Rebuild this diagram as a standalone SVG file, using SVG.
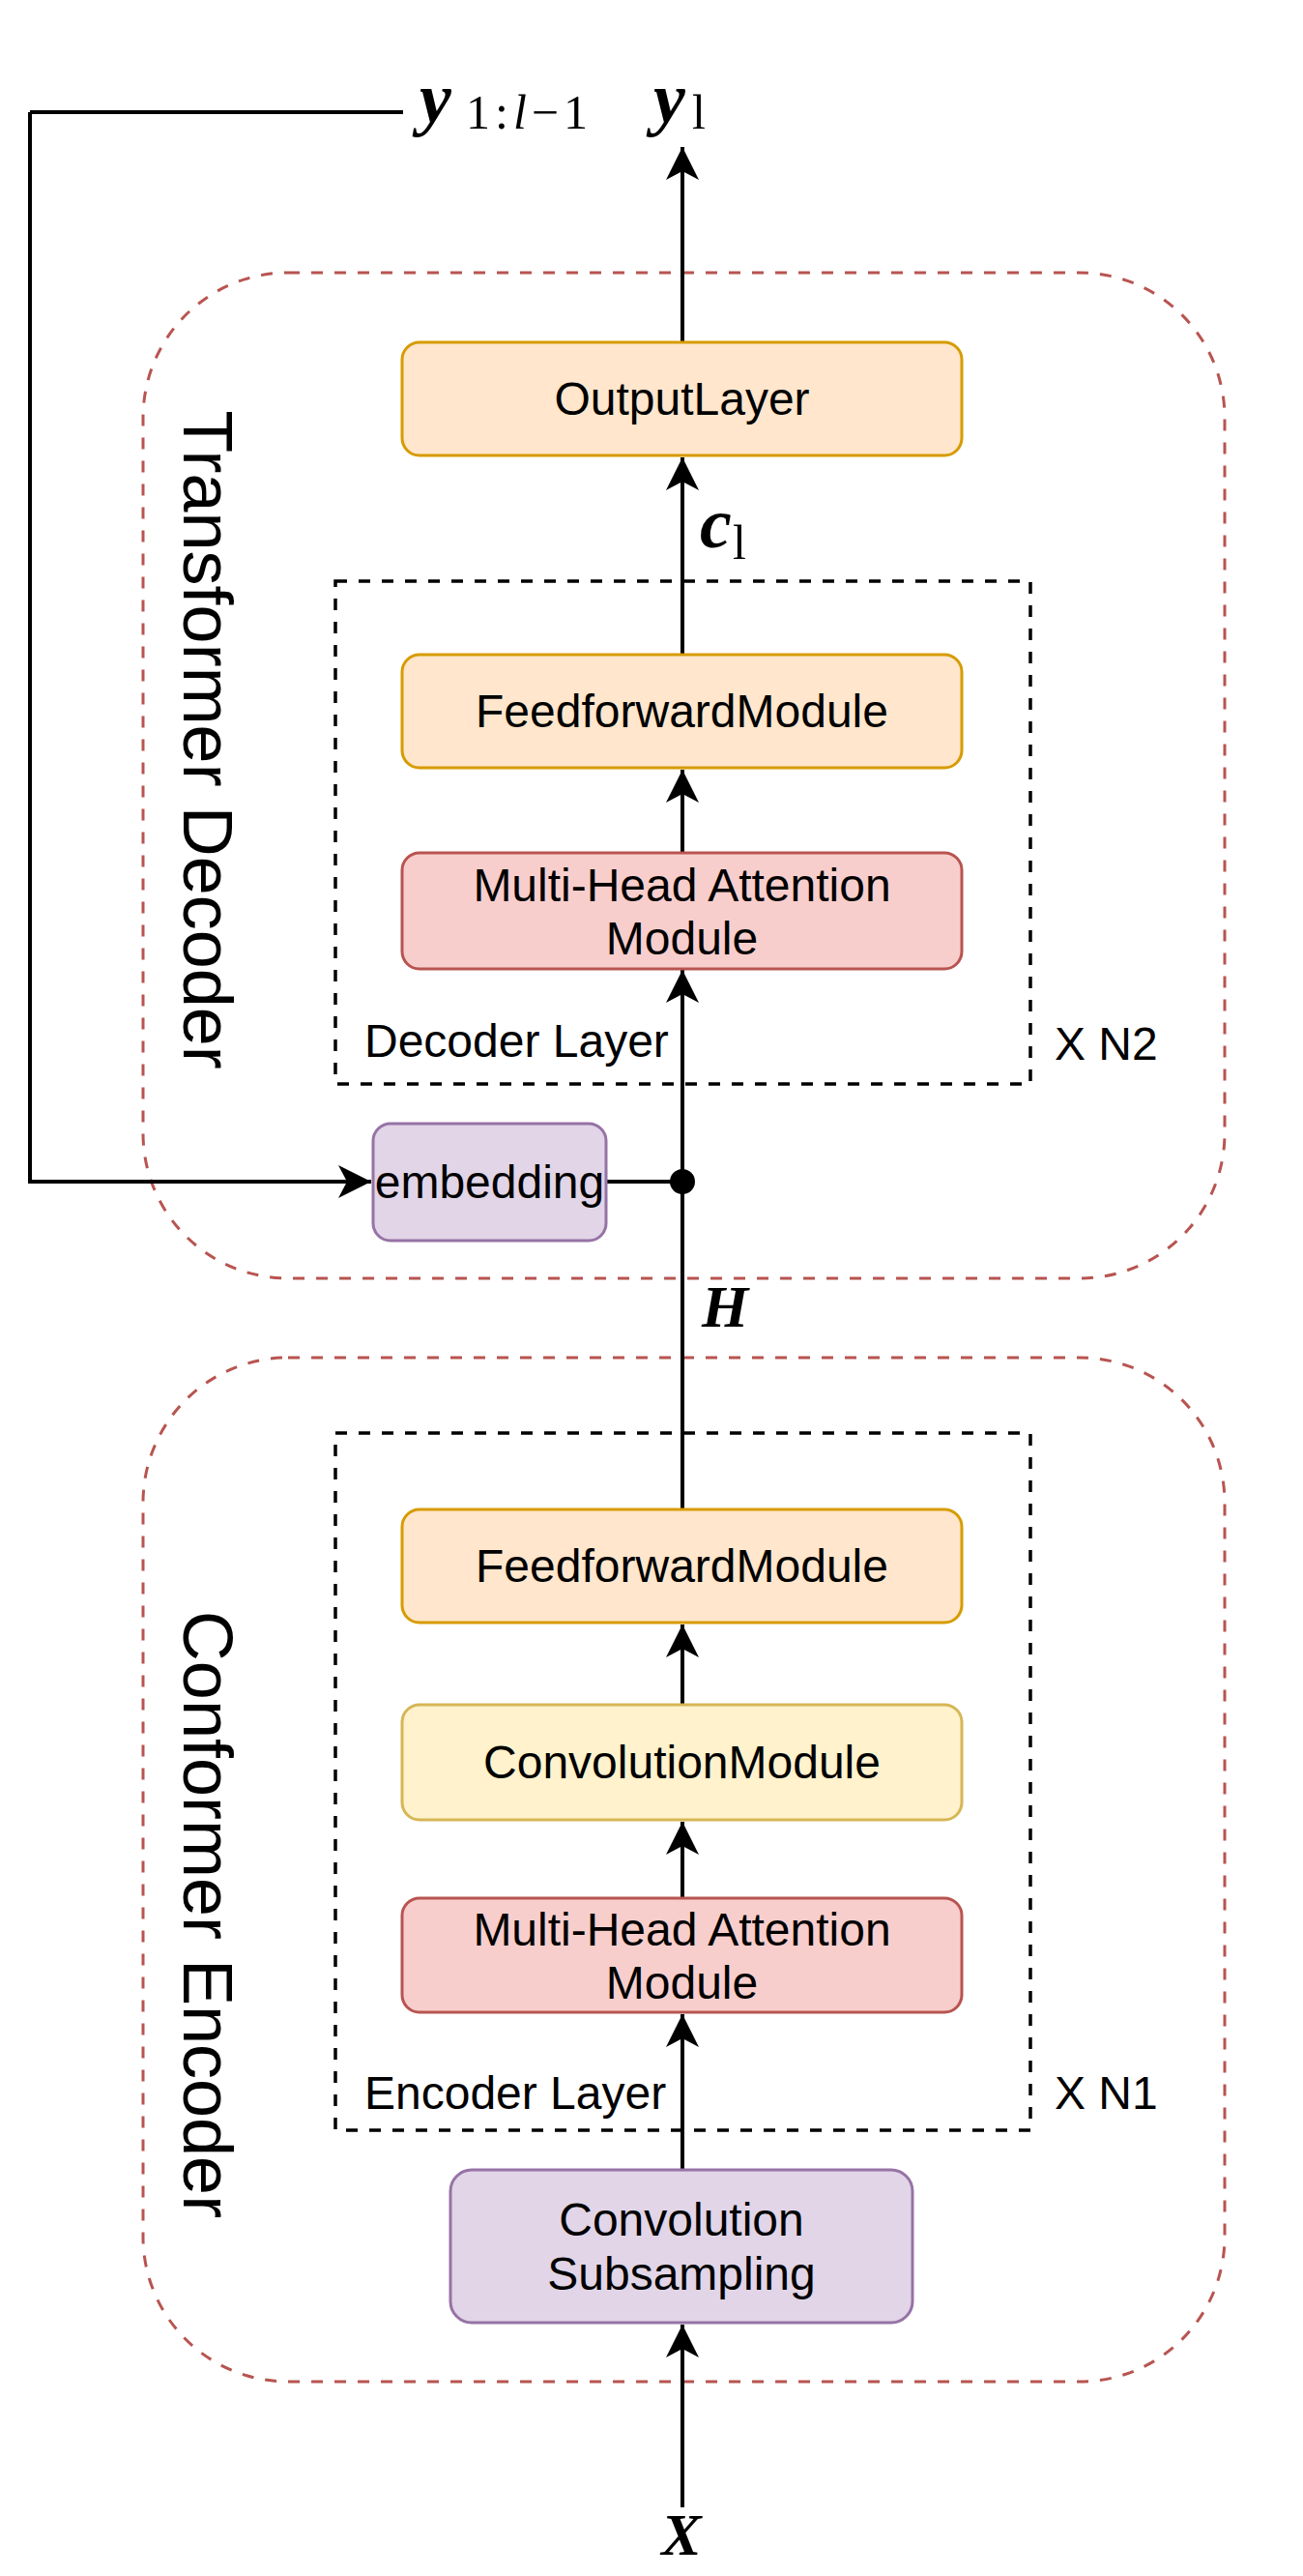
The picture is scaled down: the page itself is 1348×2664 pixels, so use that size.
<svg xmlns="http://www.w3.org/2000/svg" width="1348" height="2664" viewBox="0 0 1348 2664">
<style>
.box{stroke-width:3}
.orange{fill:#ffe6cc;stroke:#d79b00}
.red{fill:#f8cecc;stroke:#b85450}
.yellow{fill:#fff2cc;stroke:#d6b656}
.purple{fill:#e1d5e7;stroke:#9673a6}
.outer{fill:none;stroke:#b85450;stroke-width:3;stroke-dasharray:12 12}
.layer{fill:none;stroke:#000;stroke-width:3.5;stroke-dasharray:12 12}
.lbl{font-family:"Liberation Sans",Arial,sans-serif;font-size:48px;fill:#000}
.big{font-family:"Liberation Sans",Arial,sans-serif;font-size:72px;fill:#000}
.math{font-family:"Liberation Serif","Times New Roman",serif;font-weight:bold;font-style:italic;fill:#000}
.sub{font-family:"Liberation Serif","Times New Roman",serif;font-weight:normal;font-style:normal;fill:#000}
.edge{fill:none;stroke:#000;stroke-width:4}
</style>
<defs>
<marker id="arr" markerWidth="40" markerHeight="40" viewBox="-36 -20 40 40" refX="0" refY="0" orient="auto" markerUnits="userSpaceOnUse">
<path d="M0,0 L-34,-17 L-25,0 L-34,17 Z" fill="#000"/>
</marker>
</defs>
<rect width="1348" height="2664" fill="#fff"/>

<g id="decoder-group">
<rect class="outer" x="148" y="282" width="1119" height="1040" rx="150" ry="150"/>
<text class="big" text-anchor="middle" transform="translate(216,765) rotate(90)" y="26">Transformer Decoder</text>
</g>
<g id="encoder-group">
<rect class="outer" x="148" y="1404" width="1119" height="1059" rx="150" ry="150"/>
<text class="big" text-anchor="middle" transform="translate(216,1980) rotate(90)" y="26">Conformer Encoder</text>
</g>

<g id="decoder-layer">
<rect class="layer" x="347" y="601" width="719" height="520"/>
<text class="lbl" x="377" y="1093">Decoder Layer</text>
<text class="lbl" x="1091" y="1096">X N2</text>
</g>
<g id="encoder-layer">
<rect class="layer" x="347" y="1482" width="719" height="721"/>
<text class="lbl" x="377" y="2181">Encoder Layer</text>
<text class="lbl" x="1091" y="2181">X N1</text>
</g>

<g id="connectors">
<path class="edge" d="M31,116 L417,116"/>
<path class="edge" d="M31,116 L31,1222 L384,1222" marker-end="url(#arr)"/>
<path class="edge" d="M627,1222 L706,1222"/>
<path class="edge" d="M706,2593 L706,2404" marker-end="url(#arr)"/>
<path class="edge" d="M706,2244 L706,2083" marker-end="url(#arr)"/>
<path class="edge" d="M706,1963 L706,1884" marker-end="url(#arr)"/>
<path class="edge" d="M706,1763 L706,1680" marker-end="url(#arr)"/>
<path class="edge" d="M706,1561 L706,1003" marker-end="url(#arr)"/>
<path class="edge" d="M706,882 L706,796" marker-end="url(#arr)"/>
<path class="edge" d="M706,677 L706,473" marker-end="url(#arr)"/>
<path class="edge" d="M706,354 L706,152" marker-end="url(#arr)"/>
<circle cx="706" cy="1222" r="13" fill="#000"/>
</g>

<g id="output-layer">
<rect class="box orange" x="416" y="354" width="579" height="117" rx="18"/>
<text class="lbl" x="705.5" y="429" text-anchor="middle">OutputLayer</text>
</g>
<g id="dec-ff">
<rect class="box orange" x="416" y="677" width="579" height="117" rx="18"/>
<text class="lbl" x="705.5" y="752" text-anchor="middle">FeedforwardModule</text>
</g>
<g id="dec-mha">
<rect class="box red" x="416" y="882" width="579" height="120" rx="18"/>
<text class="lbl" x="705.5" y="932" text-anchor="middle">Multi-Head Attention</text>
<text class="lbl" x="705.5" y="987" text-anchor="middle">Module</text>
</g>
<g id="embedding">
<rect class="box purple" x="386" y="1162" width="241" height="121" rx="18"/>
<text class="lbl" x="506.5" y="1239" text-anchor="middle">embedding</text>
</g>
<g id="enc-ff">
<rect class="box orange" x="416" y="1561" width="579" height="117" rx="18"/>
<text class="lbl" x="705.5" y="1636" text-anchor="middle">FeedforwardModule</text>
</g>
<g id="enc-conv">
<rect class="box yellow" x="416" y="1763" width="579" height="119" rx="18"/>
<text class="lbl" x="705.5" y="1839" text-anchor="middle">ConvolutionModule</text>
</g>
<g id="enc-mha">
<rect class="box red" x="416" y="1963" width="579" height="118" rx="18"/>
<text class="lbl" x="705.5" y="2012" text-anchor="middle">Multi-Head Attention</text>
<text class="lbl" x="705.5" y="2067" text-anchor="middle">Module</text>
</g>
<g id="conv-sub">
<rect class="box purple" x="466" y="2244" width="478" height="158" rx="22"/>
<text class="lbl" x="705" y="2312" text-anchor="middle">Convolution</text>
<text class="lbl" x="705" y="2368" text-anchor="middle">Subsampling</text>
</g>

<g id="labels">
<text class="math" x="434" y="126" font-size="74">y</text>
<text class="sub" x="482" y="133" font-size="50" textLength="126" lengthAdjust="spacing">1:<tspan font-style="italic">l</tspan>−1</text>
<text class="math" x="676" y="126" font-size="74">y</text>
<text class="sub" x="716" y="133" font-size="50" font-style="italic">l</text>
<text class="math" x="724" y="566" font-size="74">c</text>
<text class="sub" x="758" y="578" font-size="50" font-style="italic">l</text>
<text class="math" x="726" y="1372" font-size="62">H</text>
<text class="math" x="705" y="2642" font-size="62" text-anchor="middle">X</text>
</g>
</svg>
